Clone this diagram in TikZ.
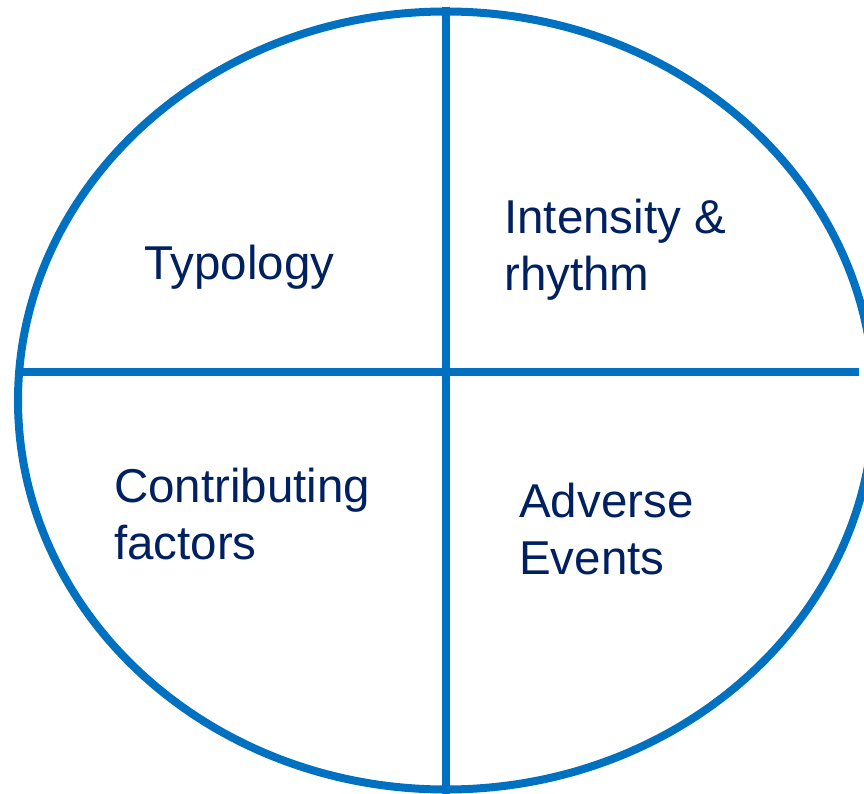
\documentclass[tikz,border=0pt]{standalone}
\usepackage{fontspec}
\setmainfont{Liberation Sans}
\usepackage{tikz}
\usetikzlibrary{shapes.geometric, positioning}

\definecolor{pptblue}{HTML}{0070C0}
\definecolor{pptnavy}{HTML}{002060}

\begin{document}
\begin{tikzpicture}[x=1pt, y=-1pt]
	\tikzstyle{rim} = [draw=pptblue, line width=8pt, ellipse, inner sep=0pt]
	\tikzstyle{cut} = [draw=pptblue, line width=7.5pt]
	\tikzstyle{label} = [text=pptnavy, inner sep=0pt, align=left, font=\fontsize{47.5}{57}\selectfont]

	\useasboundingbox (0,0) rectangle (864,794);
	\clip (0,0) rectangle (864,794);

	\node[rim, minimum width=856pt, minimum height=778pt] (disc) at (446,400.5) {};

	\coordinate (left) at (22,372);
	\coordinate (right) at (859,372);

	\path[cut]
		(disc.north) edge (disc.south)
		(left) edge (right)
	;

	\node[label, anchor=base west] (typology) at (144,279) {Typology};
	\node[label, anchor=north west] (intensity) at (504,199) {Intensity \&\\rhythm};
	\node[label, anchor=north west] (factors) at (114,468) {Contributing\\factors};
	\node[label, anchor=north west] (adverse) at (519,483) {Adverse\\Events};
\end{tikzpicture}
\end{document}
